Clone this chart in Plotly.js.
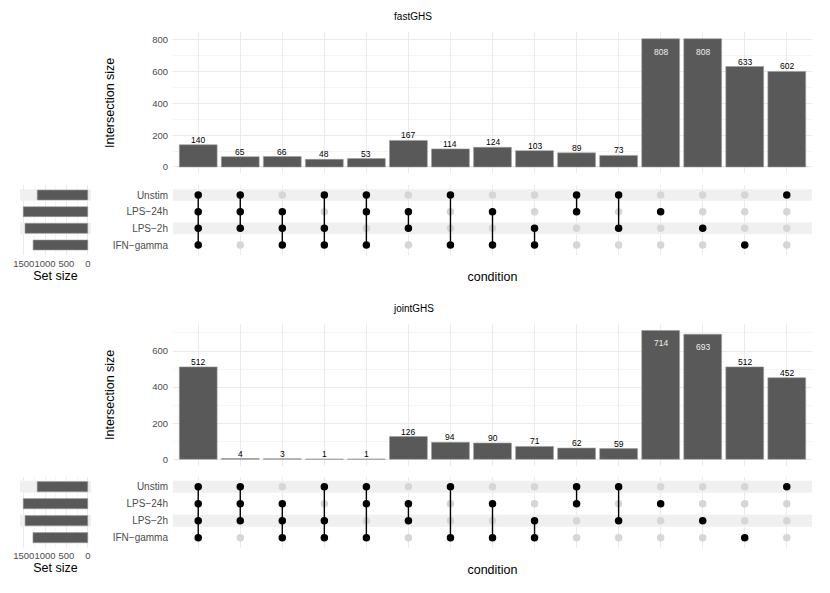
<!DOCTYPE html>
<html>
<head>
<meta charset="utf-8">
<script src="https://cdn.plot.ly/plotly-3.0.1.min.js"></script>
<style>html,body{margin:0;padding:0;background:#fff;}#chart{width:830px;height:593px;}</style>
</head>
<body>
<div id="chart"></div>
<script>
// ---- data ----
const setNames = ['Unstim', 'LPS\u221224h', 'LPS\u22122h', 'IFN\u2212gamma'];
// membership of each intersection column (indices into setNames)
const combos = [
  [0,1,2,3], [0,1,2], [1,2,3], [0,2,3], [0,1,3],
  [1,2], [0,3], [1,3], [2,3], [0,1], [0,2],
  [1], [2], [3], [0]
];
const fastValues  = [140, 65, 66, 48, 53, 167, 114, 124, 103, 89, 73, 808, 808, 633, 602];
const jointValues = [512, 4, 3, 1, 1, 126, 94, 90, 71, 62, 59, 714, 693, 512, 452];
const fastSetSizes  = [1184, 1512, 1470, 1281];
const jointSetSizes = [1185, 1512, 1469, 1284];
const setSizeTicks = [0, 500, 1000, 1500];

// ---- layout helpers ----
const W = 830, H = 593;
const fx = px => px / W;
const fy = px => 1 - px / H;
const FAM = 'Liberation Sans, Arial, sans-serif';
const barColor = '#595959';
const gridColor = '#ebebeb';
const stripeColor = '#f0f0f0';
const tickFont = {family: FAM, size: 9.5, color: '#4d4d4d'};
const titleFont = {family: FAM, size: 12.5, color: '#000'};

const panels = [
  {name: 'fastGHS', values: fastValues, setSizes: fastSetSizes,
   barTop: 32.3, barBot: 173.4, matTop: 185, matBot: 255, titleY: 16},
  {name: 'jointGHS', values: jointValues, setSizes: jointSetSizes,
   barTop: 324, barBot: 465.7, matTop: 476.5, matBot: 547.9, titleY: 308.3}
];

const data = [];
const layout = {
  width: W, height: H,
  margin: {l: 0, r: 0, t: 0, b: 0},
  paper_bgcolor: '#fff', plot_bgcolor: 'rgba(0,0,0,0)',
  showlegend: false, barmode: 'overlay',
  font: {family: FAM},
  title: {text: panels[0].name, x: fx(413), xanchor: 'center', y: fy(panels[0].titleY), yanchor: 'middle',
          font: {family: FAM, size: 10, color: '#000'}},
  annotations: []
};

const nCols = combos.length;
const xDomMain = [fx(173), fx(812)];
const xDomSet = [fx(20), fx(91)];
const ax = n => (n.length === 1 ? n + 'axis' : n[0] + 'axis' + n.slice(1));

panels.forEach((p, k) => {
  const a = 3 * k + 1;
  const bx = 'x' + (a === 1 ? '' : a), by = 'y' + (a === 1 ? '' : a);
  const mx = 'x' + (a + 1), my = 'y' + (a + 1);
  const sx = 'x' + (a + 2), sy = 'y' + (a + 2);

  const cols = combos.map((c, i) => i);
  const maxV = Math.max(...p.values);
  const maxS = Math.max(...p.setSizes);
  const mRange = [-0.6, nCols - 0.4];
  const sRange = [1.05 * maxS, -0.05 * maxS];
  const stripeRows = setNames.map((s, j) => j).filter(j => j % 2 === 0);

  // intersection bars
  data.push({
    type: 'bar', x: cols, y: p.values, xaxis: bx, yaxis: by, width: 0.9,
    marker: {color: barColor, line: {color: '#9e9e9e', width: 0.6}},
    hoverinfo: 'x+y'
  });
  // bar labels
  p.values.forEach((v, i) => {
    const inside = v >= 0.9 * maxV;
    layout.annotations.push({
      x: i, y: v, xref: bx, yref: by, text: String(v), showarrow: false,
      xanchor: 'center', yanchor: inside ? 'top' : 'bottom', yshift: inside ? -7 : -1,
      borderpad: 0,
      font: {family: FAM, size: 8.5, color: inside ? '#eeeeee' : '#000'}
    });
  });

  layout[ax(bx)] = {
    domain: xDomMain, anchor: by, range: mRange,
    showticklabels: false, ticks: '', showgrid: true, gridcolor: gridColor, gridwidth: 1,
    dtick: 1, tick0: 0, zeroline: false, showline: false
  };
  layout[ax(by)] = {
    domain: [fy(p.barBot), fy(p.barTop)], anchor: bx,
    range: [-0.05 * maxV, 1.05 * maxV], dtick: 200, tick0: 0,
    showgrid: true, gridcolor: gridColor, gridwidth: 1,
    minor: {dtick: 100, tick0: 0, showgrid: true, gridcolor: gridColor, gridwidth: 0.5},
    zeroline: false, showline: false, ticks: '', tickfont: tickFont, ticklabelstandoff: 4,
    title: {text: 'Intersection size', font: titleFont, standoff: 34}
  };

  // stripes behind alternate rows of the matrix
  const X = [], Y = [];
  stripeRows.forEach(j => {
    X.push(mRange[0], mRange[1], mRange[1], mRange[0], mRange[0], null);
    Y.push(j - 0.35, j - 0.35, j + 0.35, j + 0.35, j - 0.35, null);
  });
  data.push({type: 'scatter', mode: 'none', x: X, y: Y, xaxis: mx, yaxis: my,
             fill: 'toself', fillcolor: stripeColor, hoverinfo: 'skip'});

  // matrix: grey dots, connector lines, black dots
  const gx = [], gy = [], bxs = [], bys = [], lx = [], ly = [];
  combos.forEach((c, i) => {
    setNames.forEach((s, j) => {
      if (c.includes(j)) { bxs.push(i); bys.push(j); }
      else { gx.push(i); gy.push(j); }
    });
    if (c.length > 1) {
      lx.push(i, i, null);
      ly.push(Math.min(...c), Math.max(...c), null);
    }
  });
  data.push({type: 'scatter', mode: 'markers', x: gx, y: gy, xaxis: mx, yaxis: my,
             marker: {color: '#d6d6d6', size: 7.5}, hoverinfo: 'skip'});
  data.push({type: 'scatter', mode: 'lines', x: lx, y: ly, xaxis: mx, yaxis: my,
             line: {color: '#000', width: 1.4}, hoverinfo: 'skip', connectgaps: false});
  data.push({type: 'scatter', mode: 'markers', x: bxs, y: bys, xaxis: mx, yaxis: my,
             marker: {color: '#000', size: 7.5}, hoverinfo: 'skip'});

  layout[ax(mx)] = {
    domain: xDomMain, anchor: my, range: mRange,
    showticklabels: false, ticks: '', showgrid: true, gridcolor: gridColor, gridwidth: 1,
    dtick: 1, tick0: 0, zeroline: false, showline: false,
    title: {text: 'condition', font: titleFont, standoff: 17}
  };
  layout[ax(my)] = {
    domain: [fy(p.matBot), fy(p.matTop)], anchor: mx,
    range: [setNames.length - 0.4, -0.6],
    tickvals: setNames.map((s, j) => j), ticktext: setNames,
    showgrid: false, zeroline: false, showline: false, ticks: '',
    tickfont: {family: FAM, size: 10, color: '#4d4d4d'},
    ticklabelstandoff: 4
  };

  // stripes in the set-size panel (drawn first, under the bars)
  data.push({
    type: 'bar', orientation: 'h', y: stripeRows, x: stripeRows.map(() => sRange[0] - sRange[1]),
    base: sRange[1], xaxis: sx, yaxis: sy, width: 0.7,
    marker: {color: stripeColor, line: {width: 0}}, hoverinfo: 'skip'
  });
  // set sizes
  data.push({
    type: 'bar', orientation: 'h', x: p.setSizes, y: setNames.map((s, j) => j),
    xaxis: sx, yaxis: sy, width: 0.6,
    marker: {color: barColor, line: {color: '#9e9e9e', width: 0.6}}, hoverinfo: 'x'
  });
  layout[ax(sx)] = {
    domain: xDomSet, anchor: sy, range: sRange,
    tickvals: setSizeTicks, tickangle: 0, showgrid: true, gridcolor: gridColor, gridwidth: 1,
    minor: {dtick: 250, tick0: 0, showgrid: true, gridcolor: gridColor, gridwidth: 0.5},
    zeroline: false, showline: false, ticks: '', tickfont: tickFont, ticklabelstandoff: 1,
    title: {text: 'Set size', font: titleFont, standoff: 2}
  };
  layout[ax(sy)] = {
    domain: [fy(p.matBot), fy(p.matTop)], anchor: sx,
    range: [setNames.length - 0.4, -0.6], showticklabels: false,
    showgrid: false, zeroline: false, showline: false, ticks: ''
  };

  if (k > 0) {
    layout.annotations.push({
      xref: 'paper', yref: 'paper', x: fx(413), y: fy(p.titleY), text: p.name, showarrow: false,
      xanchor: 'center', yanchor: 'middle',
      font: {family: FAM, size: 10, color: '#000'}
    });
  }
});

Plotly.newPlot('chart', data, layout, {displayModeBar: false, staticPlot: true});
</script>
</body>
</html>
